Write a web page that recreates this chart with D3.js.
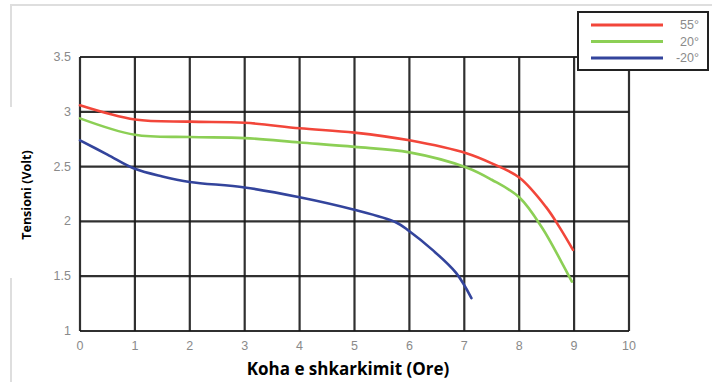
<!DOCTYPE html>
<html>
<head>
<meta charset="utf-8">
<script src="https://cdn.jsdelivr.net/npm/d3@7"></script>
<style>
  body { margin: 0; background: #fff; }
  svg { display: block; }
</style>
</head>
<body>
<svg id="chart" width="712" height="382"></svg>
<script>
// discharge data
var hours55 = [0, 1, 2, 3, 4, 5, 6, 7.05, 7.5, 8, 8.49, 8.73, 8.98];
var volts55 = [3.06, 2.93, 2.91, 2.90, 2.85, 2.81, 2.74, 2.62, 2.53, 2.40, 2.13, 1.95, 1.74];
var hours20 = [0, 1, 2, 3, 4, 5, 6, 7.05, 7.5, 8, 8.42, 8.78, 8.96];
var volts20 = [2.94, 2.79, 2.77, 2.76, 2.72, 2.68, 2.63, 2.49, 2.38, 2.22, 1.94, 1.62, 1.45];
var hoursM20 = [0, 0.5, 1, 1.5, 2, 3, 4, 4.96, 5.76, 6, 6.42, 6.85, 7.13];
var voltsM20 = [2.74, 2.61, 2.48, 2.41, 2.36, 2.31, 2.22, 2.11, 1.99, 1.91, 1.74, 1.53, 1.30];

var xTicks = [0, 1, 2, 3, 4, 5, 6, 7, 8, 9, 10];
var yTicks = [1, 1.5, 2, 2.5, 3, 3.5];
var seriesNames = ['55°', '20°', '-20°'];
var seriesColors = ['#f2463a', '#8ccf55', '#33449c'];

var series = [
  { name: seriesNames[0], color: seriesColors[0], pts: hours55.map((h, i) => [h, volts55[i]]) },
  { name: seriesNames[1], color: seriesColors[1], pts: hours20.map((h, i) => [h, volts20[i]]) },
  { name: seriesNames[2], color: seriesColors[2], pts: hoursM20.map((h, i) => [h, voltsM20[i]]) }
];

var svg = d3.select('#chart');

// faint frame of the original screenshot
var frame = svg.append('g').attr('stroke', '#dedede').attr('stroke-width', 2);
frame.append('line').attr('x1', 10).attr('x2', 712).attr('y1', 5).attr('y2', 5);
frame.append('line').attr('x1', 11).attr('x2', 11).attr('y1', 5).attr('y2', 107);
frame.append('line').attr('x1', 11).attr('x2', 11).attr('y1', 278).attr('y2', 382);

var x = d3.scaleLinear().domain([0, 10]).range([80, 629]),
  y = d3.scaleLinear().domain([1, 3.5]).range([331, 57]);

// grid -------------------- //
var grid = svg.append('g')
  .attr('stroke', '#1a1a1a')
  .attr('stroke-width', 2.2)
  .attr('stroke-opacity', 0.9);

grid.selectAll('line.v')
  .data(xTicks)
  .enter()
  .append('line')
  .attr('class', 'v')
  .attr('x1', d => x(d)).attr('x2', d => x(d))
  .attr('y1', y(3.5)).attr('y2', y(1));

grid.selectAll('line.h')
  .data(yTicks)
  .enter()
  .append('line')
  .attr('class', 'h')
  .attr('x1', x(0)).attr('x2', x(10))
  .attr('y1', d => y(d)).attr('y2', d => y(d));

// tick labels
var tickFont = 'Liberation Sans, Arial, sans-serif';
svg.append('g')
  .selectAll('text')
  .data(xTicks)
  .enter()
  .append('text')
  .attr('x', d => x(d))
  .attr('y', 350)
  .attr('text-anchor', 'middle')
  .style('font-family', tickFont)
  .style('font-size', '12.5px')
  .style('fill', '#8a8a8a')
  .text(d => d);

svg.append('g')
  .selectAll('text')
  .data(yTicks)
  .enter()
  .append('text')
  .attr('x', 71)
  .attr('y', d => y(d) + 4)
  .attr('text-anchor', 'end')
  .style('font-family', tickFont)
  .style('font-size', '12.5px')
  .style('fill', '#8a8a8a')
  .text(d => d);

// curves -------------------- //
var line = d3.line()
  .x(d => x(d[0]))
  .y(d => y(d[1]))
  .curve(d3.curveCatmullRom.alpha(0.5));

svg.append('g')
  .selectAll('path')
  .data(series)
  .enter()
  .append('path')
  .attr('d', d => line(d.pts))
  .attr('fill', 'none')
  .attr('stroke', d => d.color)
  .attr('stroke-width', 2.6)
  .attr('stroke-linecap', 'round');

// axis titles
svg.append('text')
  .attr('transform', 'translate(31,195) rotate(-90)')
  .attr('text-anchor', 'middle')
  .style('font-family', 'Open Sans, sans-serif')
  .style('font-weight', 700)
  .style('font-size', '12.5px')
  .style('fill', '#000')
  .text('Tensioni (Volt)');

svg.append('text')
  .attr('x', 348)
  .attr('y', 375)
  .attr('text-anchor', 'middle')
  .style('font-family', 'Open Sans, sans-serif')
  .style('font-weight', 700)
  .style('font-size', '17px')
  .style('fill', '#000')
  .text('Koha e shkarkimit (Ore)');

// legend -------------------- //
var legend = svg.append('g');
legend.append('rect')
  .attr('x', 578).attr('y', 12)
  .attr('width', 130).attr('height', 58)
  .attr('fill', '#fff')
  .attr('stroke', '#222')
  .attr('stroke-width', 2);

var item = legend.selectAll('g.item')
  .data(series)
  .enter()
  .append('g')
  .attr('class', 'item')
  .attr('transform', (d, i) => `translate(0,${25 + i * 16.5})`);

item.append('line')
  .attr('x1', 591).attr('x2', 663)
  .attr('stroke', d => d.color)
  .attr('stroke-width', 3);

item.append('text')
  .attr('x', 699)
  .attr('y', 4)
  .attr('text-anchor', 'end')
  .style('font-family', tickFont)
  .style('font-size', '12.5px')
  .style('fill', '#8a8a8a')
  .text(d => d.name);
</script>
</body>
</html>
